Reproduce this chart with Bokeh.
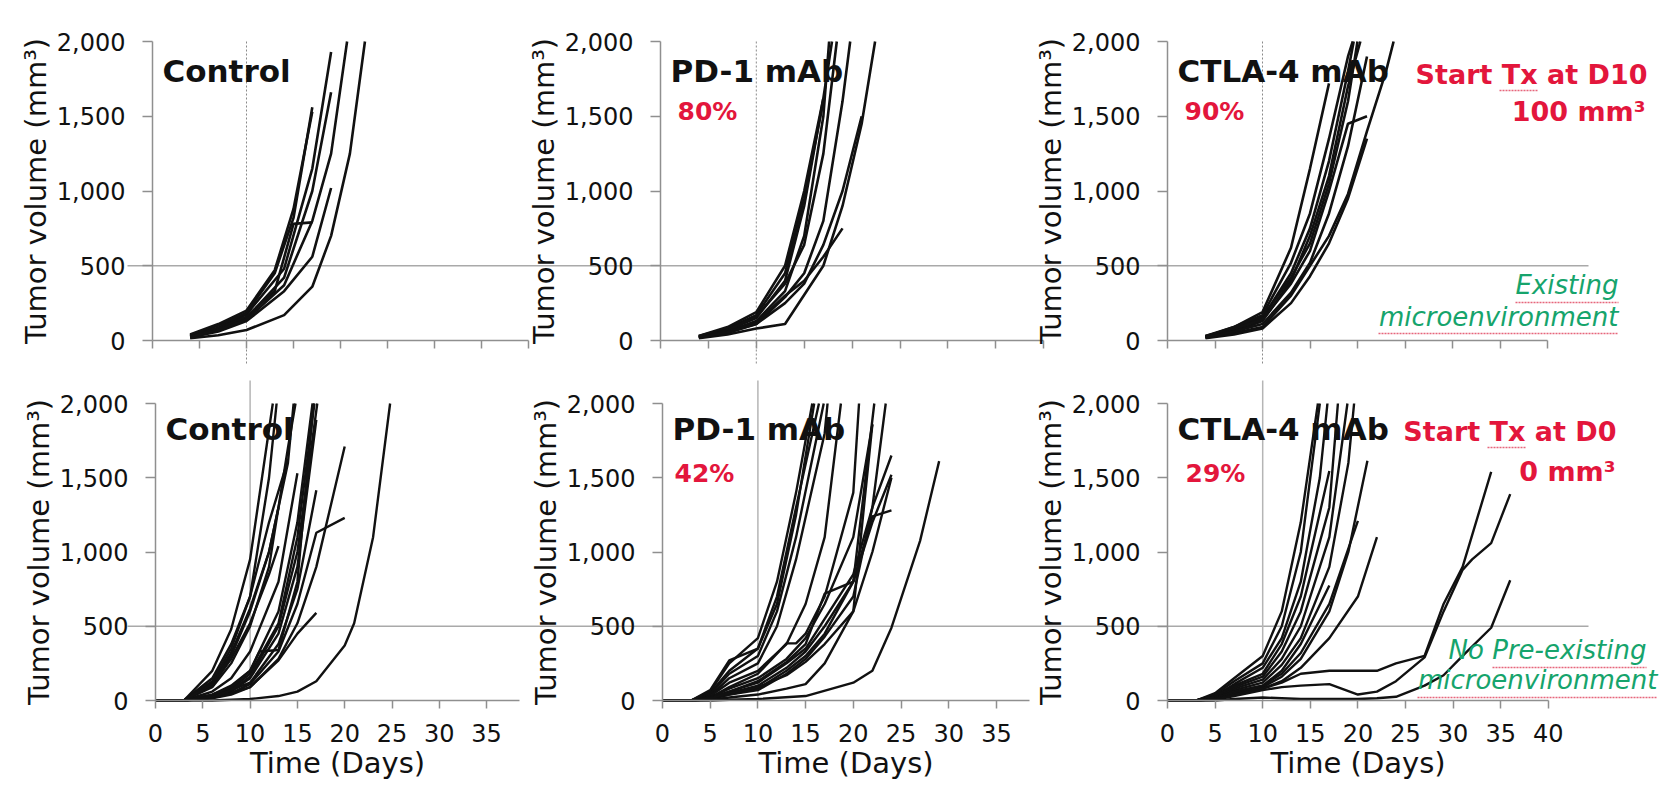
from bokeh.plotting import figure
from bokeh.models import Range1d, LinearAxis, FixedTicker, NumeralTickFormatter, ColumnDataSource
from bokeh.layouts import column
from bokeh.embed import file_html
from bokeh.resources import INLINE
from bokeh.core.properties import value

# ------------------------------------------------------------------ data
y_ticks = [0, 500, 1000, 1500, 2000]
x_ticks_40 = [0, 5, 10, 15, 20, 25, 30, 35, 40]
x_ticks_35 = [0, 5, 10, 15, 20, 25, 30, 35]

# Treatment started at day 10 (100 mm3) -- top row.  A last value of 2000 is
# where a curve leaves the top of the chart.
ctrl_d10_days = [
    [4, 7, 10, 14, 17, 19], [4, 7, 10, 14, 17, 19], [4, 7, 10, 13, 15, 17],
    [4, 7, 10, 13, 15, 17], [4, 7, 10, 14, 17, 19], [4, 7, 10, 14, 17, 19, 20.7],
    [4, 7, 10, 14, 17, 19, 21, 22.6], [4, 7, 10, 13, 15, 17],
]
ctrl_d10_vol = [
    [30, 85, 175, 480, 1150, 1930], [25, 70, 150, 420, 1000, 1660], [35, 100, 185, 450, 820, 1560],
    [30, 80, 160, 330, 780, 790], [20, 60, 130, 330, 560, 1020], [25, 70, 140, 370, 800, 1250, 2000],
    [15, 35, 70, 170, 360, 700, 1250, 2000], [40, 110, 200, 470, 880, 1530],
]
pd1_d10_days = [
    [4, 7, 10, 13, 15, 17], [4, 7, 10, 13, 15, 17], [4, 7, 10, 13, 15, 17, 17.6],
    [4, 7, 10, 13, 15, 17, 18.4], [4, 7, 10, 13, 15, 17, 19, 19.8], [4, 7, 10, 13, 17, 19, 21, 22.4],
    [4, 7, 10, 13, 15, 17, 19], [4, 7, 10, 13, 15, 17, 19, 21], [4, 7, 10, 13, 15, 17, 17.9],
]
pd1_d10_vol = [
    [25, 70, 150, 400, 900, 1620], [30, 80, 170, 450, 950, 1600], [20, 60, 130, 330, 700, 1500, 2000],
    [25, 70, 160, 380, 640, 1250, 2000], [20, 50, 110, 290, 450, 800, 1600, 2000],
    [15, 40, 80, 110, 500, 900, 1450, 2000],
    [25, 60, 120, 300, 400, 560, 750], [20, 55, 110, 250, 380, 640, 1000, 1500],
    [30, 90, 190, 500, 1000, 1620, 2000],
]
ctla4_d10_days = [
    [4, 7, 10, 13, 15, 17], [4, 7, 10, 13, 15, 17, 19, 20.3], [4, 7, 10, 13, 15, 17, 19, 19.6],
    [4, 7, 10, 13, 15, 17, 19, 20], [4, 7, 10, 13, 15, 17, 19, 21],
    [4, 7, 10, 13, 15, 17, 19, 21, 23, 23.8], [4, 7, 10, 13, 15, 17, 19, 19.5],
    [4, 7, 10, 13, 15, 17, 19, 21], [4, 7, 10, 13, 15, 17, 19, 21],
]
ctla4_d10_vol = [
    [25, 90, 190, 620, 1150, 1720], [20, 60, 130, 400, 700, 1100, 1700, 2000],
    [25, 70, 150, 450, 750, 1200, 1800, 2000], [30, 80, 160, 420, 650, 1050, 1600, 2000],
    [25, 80, 140, 380, 600, 1000, 1450, 1500], [20, 50, 90, 300, 500, 700, 980, 1400, 1800, 2000],
    [30, 90, 170, 520, 850, 1350, 1900, 2000], [15, 40, 80, 250, 430, 650, 950, 1350],
    [20, 60, 110, 320, 520, 850, 1300, 1900],
]

# Treatment started at day 0 (0 mm3) -- bottom row
ctrl_d0_days = [
    [0, 3, 6, 8, 10, 12.4], [0, 3, 6, 8, 10, 12, 14], [0, 3, 6, 8, 10, 12, 13],
    [0, 3, 6, 8, 10, 12, 13], [0, 3, 6, 8, 10, 12, 12.8], [0, 3, 6, 8, 10, 12, 14, 14.8],
    [0, 3, 6, 8, 10, 13, 15, 16.8], [0, 3, 6, 8, 10, 13, 15, 16.6], [0, 3, 6, 8, 10, 13, 15, 17],
    [0, 3, 6, 8, 10, 13, 15, 17], [0, 3, 6, 8, 10, 13, 15, 17], [0, 3, 6, 8, 10, 13, 15],
    [0, 3, 6, 8, 10, 13, 15, 17, 20], [0, 3, 6, 8, 10, 13, 15, 17, 20],
    [0, 3, 6, 8, 10, 13, 15, 17, 20, 21, 23, 24.8], [0, 3, 6, 8, 10, 11, 13, 15, 16.7],
    [0, 3, 6, 8, 10, 13, 15, 17.1], [0, 3, 6, 8, 10, 12, 14, 14.6],
]
ctrl_d0_vol = [
    [0, 0, 200, 480, 950, 2000], [0, 0, 150, 380, 700, 1200, 1620], [0, 0, 120, 320, 620, 1000, 1300],
    [0, 0, 100, 280, 520, 850, 1040], [0, 0, 130, 350, 700, 1500, 2000], [0, 0, 90, 250, 500, 900, 1700, 2000],
    [0, 0, 30, 80, 180, 520, 1100, 2000], [0, 0, 40, 100, 200, 600, 1200, 2000], [0, 0, 20, 60, 150, 450, 900, 1890],
    [0, 0, 30, 70, 120, 380, 750, 1416], [0, 0, 20, 50, 90, 270, 450, 590], [0, 0, 60, 150, 330, 800, 1530],
    [0, 0, 20, 50, 110, 330, 650, 1130, 1230], [0, 0, 15, 40, 90, 280, 520, 900, 1710],
    [0, 0, 0, 5, 10, 30, 60, 130, 370, 520, 1100, 2000], [0, 0, 40, 90, 200, 330, 340, 800, 2000],
    [0, 0, 25, 70, 160, 500, 1000, 2000], [0, 0, 110, 300, 600, 1000, 1600, 2000],
]
pd1_d0_days = [
    [0, 3, 5, 7, 10, 12, 14, 15.7], [0, 3, 5, 7, 10, 12, 14, 16.4], [0, 3, 5, 7, 10, 12, 14, 16.9],
    [0, 3, 5, 7, 10, 12, 14, 17, 17.3], [0, 3, 5, 7, 10, 13, 15, 17, 18.7],
    [0, 3, 5, 7, 10, 13, 14, 15, 17, 20, 20.6], [0, 3, 5, 7, 10, 13, 15, 17, 20, 22],
    [0, 3, 5, 7, 10, 13, 15, 17, 20, 22, 24], [0, 3, 5, 7, 10, 13, 15, 17, 20, 22, 24],
    [0, 3, 5, 7, 10, 13, 15, 17, 20, 22, 24], [0, 3, 5, 7, 10, 13, 15, 17, 20, 22.2],
    [0, 3, 5, 7, 10, 13, 15, 17, 20, 22, 23.4], [0, 3, 5, 7, 10, 13, 15, 17, 20, 22],
    [0, 3, 5, 7, 10, 15, 20, 22, 24, 27, 29], [0, 3, 5, 7, 10, 13, 15, 17, 20, 22, 24],
    [0, 3, 5, 7, 10, 12, 14, 15.9],
]
pd1_d0_vol = [
    [0, 0, 60, 250, 420, 800, 1400, 2000], [0, 0, 50, 200, 350, 700, 1300, 2000], [0, 0, 40, 180, 300, 600, 1100, 2000],
    [0, 0, 30, 150, 250, 500, 950, 1800, 2000], [0, 0, 30, 120, 200, 380, 650, 1100, 2000],
    [0, 0, 20, 90, 180, 385, 385, 450, 700, 1400, 2000], [0, 0, 20, 80, 150, 280, 420, 650, 1100, 1860],
    [0, 0, 15, 60, 120, 250, 350, 550, 850, 1300, 1650], [0, 0, 10, 50, 100, 220, 330, 500, 800, 1200, 1520],
    [0, 0, 20, 60, 130, 260, 380, 720, 800, 1240, 1280], [0, 0, 10, 40, 80, 200, 300, 450, 800, 2000],
    [0, 0, 10, 40, 70, 180, 280, 430, 700, 1300, 2000], [0, 0, 5, 20, 40, 80, 110, 250, 600, 1860],
    [0, 0, 0, 5, 10, 30, 120, 200, 490, 1075, 1612], [0, 0, 15, 50, 90, 170, 260, 380, 600, 1000, 1500],
    [0, 0, 70, 270, 350, 650, 1250, 2000],
]
ctla4_d0_days = [
    [0, 3, 5, 7, 10, 12, 14, 15.8], [0, 3, 5, 7, 10, 12, 14, 16], [0, 3, 5, 7, 10, 12, 14, 16, 16.8],
    [0, 3, 5, 7, 10, 12, 14, 17], [0, 3, 5, 7, 10, 12, 14, 17, 17.9], [0, 3, 5, 7, 10, 12, 14, 17, 18.9],
    [0, 3, 5, 7, 10, 12, 14, 17, 19, 19.6], [0, 3, 5, 7, 10, 12, 14, 17], [0, 3, 5, 7, 10, 12, 14, 17, 20],
    [0, 3, 5, 7, 10, 12, 14, 17, 19, 21], [0, 3, 5, 7, 10, 12, 14, 17, 20, 22],
    [0, 3, 5, 7, 10, 12, 14, 17, 20, 22, 24, 27, 29, 31, 34],
    [0, 3, 5, 7, 10, 12, 14, 17, 20, 22, 24, 27, 29, 31, 32, 34, 36],
    [0, 3, 5, 7, 10, 12, 14, 17, 20, 22, 24, 27, 29, 31, 34, 36],
]
ctla4_d0_vol = [
    [0, 0, 50, 150, 300, 600, 1200, 2000], [0, 0, 40, 130, 250, 500, 1000, 2000],
    [0, 0, 30, 110, 220, 420, 800, 1500, 2000], [0, 0, 30, 100, 180, 380, 700, 1545],
    [0, 0, 25, 90, 160, 330, 600, 1300, 2000], [0, 0, 20, 80, 140, 280, 500, 1100, 2000],
    [0, 0, 20, 70, 120, 240, 420, 900, 1600, 2000], [0, 0, 20, 60, 100, 200, 380, 775],
    [0, 0, 15, 60, 100, 180, 320, 650, 1210], [0, 0, 15, 50, 90, 160, 280, 600, 1000, 1615],
    [0, 0, 10, 40, 80, 130, 220, 420, 700, 1100],
    [0, 0, 10, 40, 80, 120, 180, 200, 200, 200, 250, 300, 650, 900, 1540],
    [0, 0, 5, 30, 70, 90, 100, 110, 40, 60, 130, 290, 600, 880, 950, 1060, 1390],
    [0, 0, 0, 10, 20, 15, 10, 10, 10, 15, 25, 100, 170, 300, 490, 810],
]

titles = ["Control", "PD-1 mAb", "CTLA-4 mAb"]
pct_top = ["", "80%", "90%"]
pct_bot = ["", "42%", "29%"]
y_label = "Tumor volume (mm\u00b3)"
x_label = "Time (Days)"

# ------------------------------------------------------------------ layout / style
FONT = "DejaVu Sans"
RED = "#e3163c"
GREEN = "#16a46c"
INK = "#111111"
AXIS = "#8f8f8f"
PAGE_L = 0
FIG_W = 1660
BASE_FIX = 0.42   # text anchor correction (fraction of font size)


def make_row(fig_top, fig_h, y2000, y0):
    k = (y0 - y2000) / 2000.0
    p = figure(width=FIG_W, height=fig_h, output_backend="svg", toolbar_location=None,
               x_axis_type=None, y_axis_type=None,
               x_range=Range1d(0, 1),
               y_range=Range1d(-(fig_top + fig_h - y0) / k, (y0 - fig_top) / k),
               min_border=0)
    p.outline_line_color = None
    p.background_fill_color = "white"
    p.border_fill_color = "white"
    return p, (lambda py: (y0 - py) / k)


def add_panel(p, name, X0, s, xmax, ticks, show_x_labels):
    p.extra_x_ranges[name] = Range1d(-(X0 - PAGE_L) / s, (PAGE_L + FIG_W - X0) / s)
    xa = LinearAxis(x_range_name=name, fixed_location=0, bounds=(0, xmax),
                    ticker=FixedTicker(ticks=ticks))
    ya = LinearAxis(x_range_name=name, fixed_location=0, bounds=(0, 2000),
                    ticker=FixedTicker(ticks=y_ticks), formatter=NumeralTickFormatter(format="0,0"),
                    axis_label=y_label)
    for ax in (xa, ya):
        ax.axis_line_color = AXIS
        ax.axis_line_width = 1.5
        ax.major_tick_line_color = AXIS
        ax.major_tick_line_width = 1.5
        ax.minor_tick_line_color = None
        ax.major_tick_in = 0
        ax.major_label_text_font = FONT
        ax.major_label_text_color = INK
        ax.axis_label_text_font = FONT
        ax.axis_label_text_font_style = "normal"
        ax.axis_label_text_color = INK
        ax.axis_label_text_font_size = "29px"
    xa.major_tick_out = 8
    ya.major_tick_out = 10
    ya.major_label_text_font_size = "24px"
    ya.major_label_standoff = 17
    ya.axis_label_standoff = 1
    xa.major_label_text_font_size = "24px"
    xa.major_label_standoff = 15
    if show_x_labels:
        xa.axis_label = x_label
        xa.axis_label_standoff = 1
    else:
        xa.major_label_overrides = {t: "" for t in ticks}
    p.add_layout(xa, "below")
    p.add_layout(ya, "left")
    return (lambda px: (px - X0) / s)


def text(p, name, fx, fy, px, base, s, size, color=INK, style="normal", align="left"):
    p.text(x=[fx(px)], y=[fy(base - BASE_FIX * size)], text=[s], x_range_name=name,
           text_font=value(FONT), text_font_size="%dpx" % size, text_color=color,
           text_font_style=style, text_align=align, text_baseline="alphabetic")


def squiggle(p, name, fx, fy, px0, px1, py):
    p.segment(x0=[fx(px0)], y0=[fy(py)], x1=[fx(px1)], y1=[fy(py)], x_range_name=name,
              line_color="#e0405a", line_width=1.6, line_dash="2 1", line_alpha=0.8)


# ---------------- top row
top, ty = make_row(0, 365, 41, 340)
top_panels = [("tl", 152, 9.40), ("tm", 660, 9.58), ("tr", 1167, 9.50)]
top_data = [(ctrl_d10_days, ctrl_d10_vol), (pd1_d10_days, pd1_d10_vol), (ctla4_d10_days, ctla4_d10_vol)]
fx_top = []
for (name, X0, s) in top_panels:
    fx_top.append(add_panel(top, name, X0, s, 40, x_ticks_40, False))
f0 = fx_top[0]
top.segment(x0=[f0(127)], y0=[500], x1=[f0(1588)], y1=[500], x_range_name="tl",
            line_color="#a9a9a9", line_width=1.5)
for (name, X0, s) in top_panels:
    top.segment(x0=[10], y0=[ty(363)], x1=[10], y1=[2000], x_range_name=name,
                line_color="#8a8a8a", line_width=1, line_dash="2 2")
for (name, X0, s), (dd, vv) in zip(top_panels, top_data):
    top.multi_line(xs="xs", ys="ys", source=ColumnDataSource(dict(xs=dd, ys=vv)),
                   x_range_name=name, line_color=INK, line_width=2.6)
for i, (name, X0, s) in enumerate(top_panels):
    f = fx_top[i]
    text(top, name, f, ty, X0 + 10, 84, titles[i], 31, style="bold")
    if pct_top[i]:
        text(top, name, f, ty, X0 + 17, 121, pct_top[i], 25, color=RED, style="bold")
fr = fx_top[2]
text(top, "tr", fr, ty, 1647, 85, "Start Tx at D10", 27, color=RED, style="bold", align="right")
text(top, "tr", fr, ty, 1645, 122, "100 mm\u00b3", 27, color=RED, style="bold", align="right")
text(top, "tr", fr, ty, 1618, 295, "Existing", 26, color=GREEN, style="italic", align="right")
text(top, "tr", fr, ty, 1618, 327, "microenvironment", 26, color=GREEN, style="italic", align="right")
squiggle(top, "tr", fr, ty, 1499, 1537, 90)
squiggle(top, "tr", fr, ty, 1515, 1618, 302)
squiggle(top, "tr", fr, ty, 1378, 1618, 333)

# ---------------- bottom row
bot, by = make_row(365, 440, 403, 700)
bot_panels = [("bl", 155, 9.46, 38.5, x_ticks_35), ("bm", 662, 9.54, 38.5, x_ticks_35),
              ("br", 1167, 9.52, 40, x_ticks_40)]
bot_data = [(ctrl_d0_days, ctrl_d0_vol), (pd1_d0_days, pd1_d0_vol), (ctla4_d0_days, ctla4_d0_vol)]
fx_bot = []
for (name, X0, s, xmax, ticks) in bot_panels:
    fx_bot.append(add_panel(bot, name, X0, s, xmax, ticks, True))
g0 = fx_bot[0]
bot.segment(x0=[g0(127)], y0=[500], x1=[g0(1588)], y1=[500], x_range_name="bl",
            line_color="#a9a9a9", line_width=1.5)
for (name, X0, s, xmax, ticks) in bot_panels:
    bot.segment(x0=[10], y0=[0], x1=[10], y1=[by(380)], x_range_name=name,
                line_color="#b5b5b5", line_width=1.5)
for (name, X0, s, xmax, ticks), (dd, vv) in zip(bot_panels, bot_data):
    bot.multi_line(xs="xs", ys="ys", source=ColumnDataSource(dict(xs=dd, ys=vv)),
                   x_range_name=name, line_color=INK, line_width=2.4)
for i, (name, X0, s, xmax, ticks) in enumerate(bot_panels):
    f = fx_bot[i]
    text(bot, name, f, by, X0 + 10, 442, titles[i], 31, style="bold")
    if pct_bot[i]:
        text(bot, name, f, by, X0 + 12 if i == 1 else X0 + 18, 483, pct_bot[i], 25, color=RED, style="bold")
gr = fx_bot[2]
text(bot, "br", gr, by, 1616, 442, "Start Tx at D0", 27, color=RED, style="bold", align="right")
text(bot, "br", gr, by, 1615, 482, "0 mm\u00b3", 27, color=RED, style="bold", align="right")
text(bot, "br", gr, by, 1646, 660, "No Pre-existing", 26, color=GREEN, style="italic", align="right")
text(bot, "br", gr, by, 1657, 690, "microenvironment", 26, color=GREEN, style="italic", align="right")
squiggle(bot, "br", gr, by, 1487, 1525, 447)
squiggle(bot, "br", gr, by, 1492, 1646, 667)
squiggle(bot, "br", gr, by, 1417, 1657, 697)

layout = column(top, bot, spacing=0)
open("out.html", "w").write(file_html(layout, INLINE))
